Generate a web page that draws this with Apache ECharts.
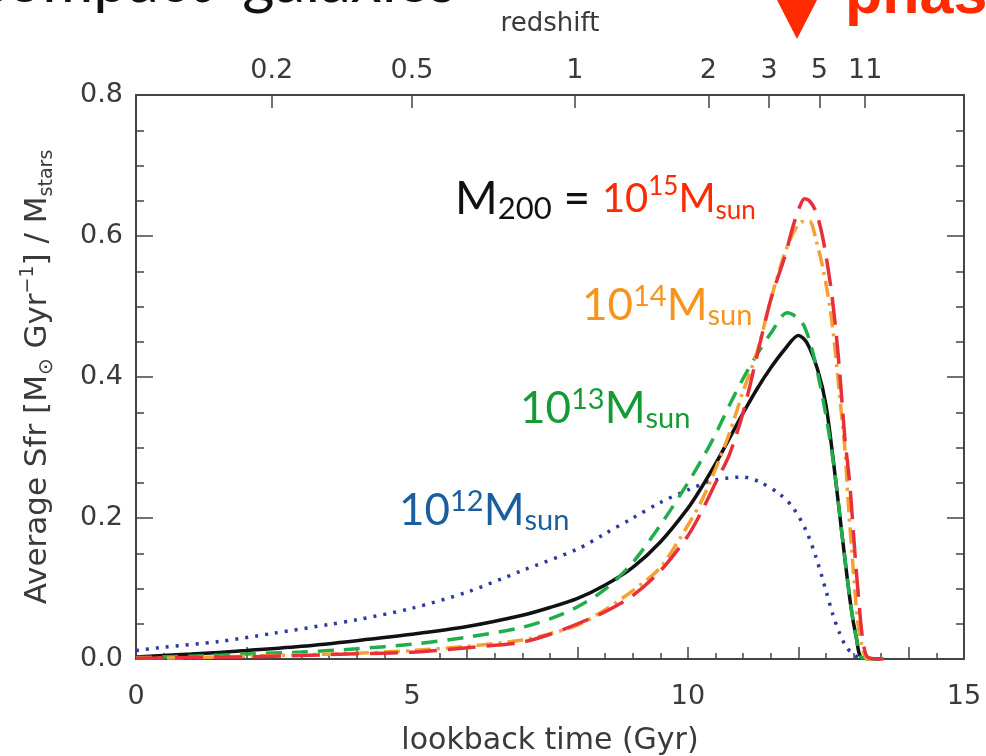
<!DOCTYPE html>
<html>
<head>
<meta charset="utf-8">
<script src="https://cdn.jsdelivr.net/npm/echarts@6/dist/echarts.min.js"></script>
<style>
html,body{margin:0;padding:0;background:#fff;}
#chart{width:986px;height:756px;}
</style>
</head>
<body>
<div id="chart"></div>
<script>
// ---- data (lookback time in Gyr, average SFR / M_stars) ----
const blackT = [0,1,2,3,4,5,6,7,7.5,8,8.5,9,9.5,10,10.25,10.5,10.75,11,11.25,11.5,11.75,12,12.15,12.35,12.5,12.65,12.8,12.95,13.05,13.15,13.5];
const blackV = [0.003,0.007,0.012,0.018,0.026,0.035,0.046,0.062,0.073,0.086,0.105,0.13,0.166,0.214,0.244,0.277,0.313,0.349,0.383,0.413,0.439,0.459,0.449,0.41,0.36,0.27,0.17,0.075,0.03,0.002,0];

const greenT = [0,1,2,3,4,5,6,7,7.5,8,8.5,9,9.5,10,10.25,10.5,10.75,11,11.25,11.5,11.8,12.05,12.2,12.35,12.5,12.65,12.8,12.95,13.05,13.15,13.5];
const greenV = [0.002,0.004,0.007,0.010,0.0145,0.021,0.031,0.045,0.057,0.074,0.099,0.137,0.19,0.25,0.283,0.319,0.36,0.398,0.432,0.462,0.491,0.479,0.452,0.405,0.345,0.27,0.17,0.075,0.03,0.002,0];

const orangeT = [0,1,2,3,4,5,6,7,7.5,8,8.5,9,9.5,10,10.25,10.5,10.75,11,11.25,11.5,11.75,11.9,12.05,12.2,12.32,12.44,12.57,12.66,12.75,12.84,12.9,12.99,13.08,13.17,13.25,13.5];
const orangeV = [0.001,0.002,0.004,0.006,0.008,0.012,0.018,0.027,0.036,0.048,0.07,0.097,0.13,0.19,0.225,0.27,0.32,0.38,0.435,0.51,0.575,0.603,0.62,0.621,0.594,0.556,0.499,0.442,0.371,0.30,0.225,0.13,0.05,0.012,0,0];

const redT = [0,1,2,3,4,5,6,7,7.5,8,8.5,9,9.5,10,10.25,10.5,10.75,11,11.25,11.5,11.75,11.9,12.02,12.11,12.2,12.32,12.44,12.57,12.66,12.75,12.84,12.93,13.02,13.11,13.17,13.26,13.55];
const redV = [0.001,0.002,0.003,0.005,0.0074,0.0097,0.016,0.024,0.035,0.05,0.067,0.09,0.125,0.175,0.21,0.25,0.29,0.35,0.43,0.51,0.57,0.613,0.641,0.653,0.65,0.634,0.598,0.537,0.48,0.405,0.315,0.249,0.154,0.069,0.026,0.0025,0];

const blueT = [0,0.5,1.5,2.5,3.5,4,5,6,7,8,8.5,9,9.5,10,10.5,11,11.3,11.66,11.9,12.14,12.32,12.5,12.62,12.75,12.87,13.02,13.17];
const blueV = [0.012,0.0167,0.0248,0.0366,0.049,0.0556,0.072,0.095,0.1255,0.156,0.178,0.2,0.222,0.24,0.254,0.258,0.251,0.234,0.215,0.182,0.144,0.097,0.064,0.036,0.017,0.005,0];

// top axis: redshift ticks placed at their lookback time
const redshiftLabels = ['0.2','0.5','1','2','3','5','11'];
const redshiftPos = [2.46,5.0,7.95,10.37,11.47,12.38,13.21];

const xMajorTicks = [0,2,4,6,8,10,12,14];

const FONT = 'DejaVu Sans';
const AFONT = 'Lato';
const AX = '#444';
const LBL = '#3a3a3a';

function pairs(t, v){ return t.map((x,i)=>[x, v[i]]); }

function massLabel(exp, color){
  return {
    text:'{r|10}{rs|' + exp + '}{r|M}{rb|sun}',
    rich:{
      r:{fontSize:44, fill:color, fontFamily:AFONT, lineHeight:48},
      rs:{fontSize:29, fill:color, fontFamily:AFONT, lineHeight:48, verticalAlign:'top'},
      rb:{fontSize:29, fill:color, fontFamily:AFONT, lineHeight:48, verticalAlign:'bottom'}
    }
  };
}

const chart = echarts.init(document.getElementById('chart'), null, {renderer:'canvas'});

const baseLineStyle = {color: AX, width: 2};

const option = {
  animation: false,
  backgroundColor: '#fff',
  grid: {left:136, right:22, top:95, bottom:97, show:false, containLabel:false, outerBoundsMode:'none'},
  xAxis: [
    {
      type:'value', position:'bottom', min:0, max:15, interval:5,
      axisLine:{show:true, onZero:false, lineStyle:baseLineStyle},
      axisTick:{show:true, inside:true, length:12, customValues:xMajorTicks, lineStyle:{color:AX, width:1.5}},
      minorTick:{show:true, splitNumber:10, length:6, lineStyle:{color:AX, width:1.5}},
      axisLabel:{margin:24, fontSize:27, color:LBL, fontFamily:FONT},
      splitLine:{show:false},
      name:'lookback time (Gyr)', nameLocation:'middle', nameGap:67,
      nameTextStyle:{fontSize:30, color:LBL, fontFamily:FONT}
    },
    {
      type:'value', position:'top', min:0, max:15,
      axisLine:{show:true, onZero:false, lineStyle:baseLineStyle},
      axisTick:{show:true, inside:true, length:13, customValues:redshiftPos, lineStyle:{color:AX, width:1.5}},
      axisLabel:{show:true, customValues:redshiftPos, margin:11, fontSize:27, color:LBL, fontFamily:FONT,
        formatter:function(v){
          let best=0, d=1e9;
          redshiftPos.forEach((p,i)=>{ if(Math.abs(p-v)<d){d=Math.abs(p-v);best=i;} });
          return redshiftLabels[best];
        }},
      splitLine:{show:false},
      name:'redshift', nameLocation:'middle', nameGap:58,
      nameTextStyle:{fontSize:26, color:LBL, fontFamily:FONT}
    }
  ],
  yAxis: [
    {
      type:'value', position:'left', min:0, max:0.8, interval:0.2,
      axisLine:{show:true, onZero:false, lineStyle:baseLineStyle},
      axisTick:{show:true, inside:true, length:17, lineStyle:{color:AX, width:1.5}},
      minorTick:{show:true, splitNumber:4, length:8, lineStyle:{color:AX, width:1.5}},
      axisLabel:{margin:13, fontSize:27, color:LBL, fontFamily:FONT, formatter:v=>v.toFixed(1)},
      splitLine:{show:false},
      name:'{a|Average Sfr [M}{s|⊙}{a| Gyr}{sup|−1}{a|] / M}{sub|stars}',
      nameLocation:'middle', nameGap:79, nameRotate:90,
      nameTextStyle:{
        rich:{
          a:{fontSize:31, color:LBL, fontFamily:FONT, lineHeight:38},
          s:{fontSize:20, color:LBL, fontFamily:FONT, lineHeight:38, verticalAlign:'bottom'},
          sup:{fontSize:19, color:LBL, fontFamily:FONT, lineHeight:38, verticalAlign:'top'},
          sub:{fontSize:19, color:LBL, fontFamily:FONT, lineHeight:38, verticalAlign:'bottom'}
        }
      }
    },
    {
      type:'value', position:'right', min:0, max:0.8, interval:0.2,
      axisLine:{show:true, onZero:false, lineStyle:baseLineStyle},
      axisTick:{show:true, inside:true, length:17, lineStyle:{color:AX, width:1.5}},
      minorTick:{show:true, splitNumber:4, length:8, lineStyle:{color:AX, width:1.5}},
      axisLabel:{show:false},
      splitLine:{show:false}
    }
  ],
  series: [
    {name:'1e12', type:'line', data:pairs(blueT, blueV), showSymbol:false, smooth:0.3,
     lineStyle:{color:'#2f3a9e', width:3.5, type:[3,7], cap:'butt'}},
    {name:'all', type:'line', data:pairs(blackT, blackV), showSymbol:false, smooth:0.3,
     lineStyle:{color:'#111', width:3.5}},
    {name:'1e13', type:'line', data:pairs(greenT, greenV), showSymbol:false, smooth:0.3,
     lineStyle:{color:'#1fae4a', width:3.5, type:[16,10]}},
    {name:'1e14', type:'line', data:pairs(orangeT, orangeV), showSymbol:false, smooth:0.3,
     lineStyle:{color:'#f5a030', width:3.5, type:[16,6,3,6]}},
    {name:'1e15', type:'line', data:pairs(redT, redV), showSymbol:false, smooth:0.3,
     lineStyle:{color:'#e8303a', width:3.5, type:[28,11]}}
  ],
  graphic: [
    {type:'text', left:-22, top:-49, silent:true,
     style:{text:'compact  galaxies', fontSize:62, fontFamily:AFONT, fill:'#111'}},
    {type:'polygon', silent:true, shape:{points:[[777,0],[817,0],[797,39]]}, style:{fill:'#ff2a00'}},
    {type:'text', left:845, top:-34, silent:true,
     style:{text:'phase', fontSize:61, fontWeight:'bold', fontFamily:'Liberation Sans', fill:'#ff2a00'}},
    {type:'text', left:455, top:174, silent:true,
     style:{text:'{k|M}{ks|200}{k| = }{r|10}{rs|15}{r|M}{rb|sun}',
      rich:{
        k:{fontSize:46, fill:'#111', fontFamily:AFONT, lineHeight:50},
        ks:{fontSize:31, fill:'#111', fontFamily:AFONT, lineHeight:50, verticalAlign:'bottom'},
        r:{fontSize:40, fill:'#ff2a00', fontFamily:AFONT, lineHeight:50},
        rs:{fontSize:26, fill:'#ff2a00', fontFamily:AFONT, lineHeight:50, verticalAlign:'top'},
        rb:{fontSize:26, fill:'#ff2a00', fontFamily:AFONT, lineHeight:50, verticalAlign:'bottom'}
      }}},
    {type:'text', left:582, top:282, silent:true, style:massLabel('14', '#f7941d')},
    {type:'text', left:520, top:385, silent:true, style:massLabel('13', '#159a35')},
    {type:'text', left:399, top:487, silent:true, style:massLabel('12', '#1b5e9f')}
  ]
};
chart.setOption(option);
</script>
</body>
</html>
